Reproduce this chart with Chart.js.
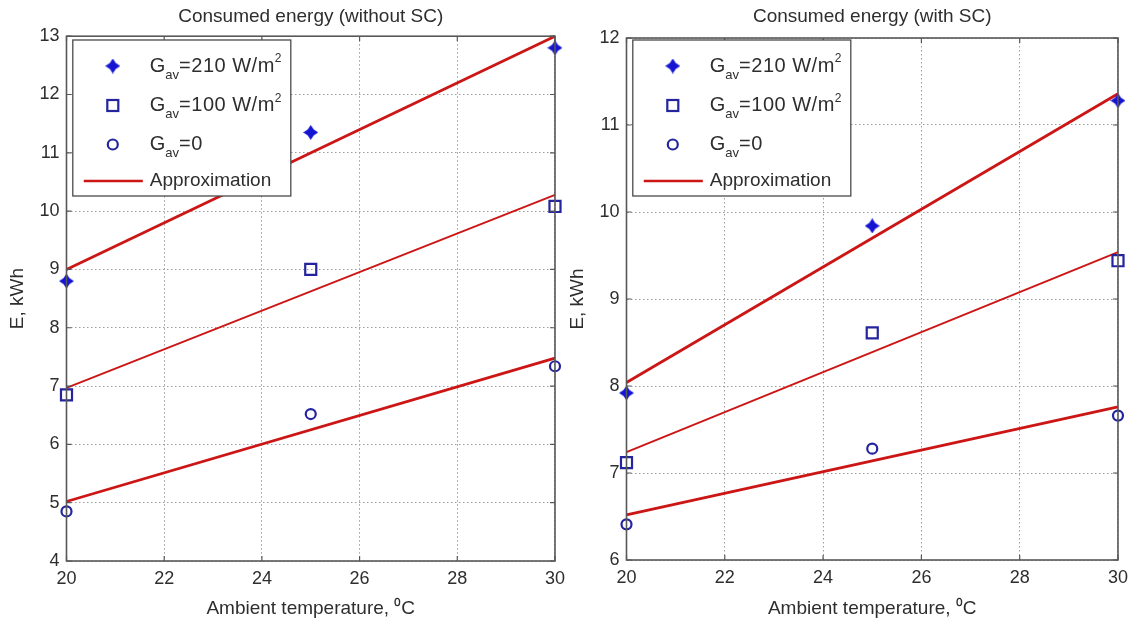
<!DOCTYPE html>
<html>
<head>
<meta charset="utf-8">
<title>Consumed energy</title>
<script src="https://cdn.jsdelivr.net/npm/chart.js@4/dist/chart.umd.min.js"></script>
<style>
  html, body { margin: 0; padding: 0; background: #ffffff; }
  #wrap { position: relative; width: 1133px; height: 626px; overflow: hidden; }
  .panel { position: absolute; top: 0; height: 626px; }
  #p1 { left: 0; width: 572px; }
  #p2 { left: 560px; width: 575px; }
</style>
</head>
<body>
<div id="wrap">
  <div class="panel" id="p1"><canvas id="c1"></canvas></div>
  <div class="panel" id="p2"><canvas id="c2"></canvas></div>
</div>
<script>
// Ambient temperatures of the measurements, °C
const temps = [20, 25, 30];
// Ends of the approximation lines, °C
const fitTemps = [20, 30];
const xTicks = [20, 22, 24, 26, 28, 30];

// Consumed energy without SC, kWh
const noSC210 = [8.8, 11.35, 12.8];
const noSC100 = [6.85, 9.0, 10.08];
const noSC0 = [4.85, 6.52, 7.34];
const noSCfit210 = [9.0, 13.0];
const noSCfit100 = [6.97, 10.28];
const noSCfit0 = [5.02, 7.48];
const noSCyTicks = [4, 5, 6, 7, 8, 9, 10, 11, 12, 13];

// Consumed energy with SC, kWh
const SC210 = [7.92, 9.84, 11.28];
const SC100 = [7.12, 8.61, 9.44];
const SC0 = [6.41, 7.28, 7.66];
const SCfit210 = [8.04, 11.36];
const SCfit100 = [7.24, 9.54];
const SCfit0 = [6.52, 7.76];
const SCyTicks = [6, 7, 8, 9, 10, 11, 12];

// Legend labels: [text, 'sub' | 'sup' | '']
const legendLabels = [
  [['G', ''], ['av', 'sub'], ['=210 W/m', ''], ['2', 'sup']],
  [['G', ''], ['av', 'sub'], ['=100 W/m', ''], ['2', 'sup']],
  [['G', ''], ['av', 'sub'], ['=0', '']],
  [['Approximation', 'plain']]
];

const FONT = "'Liberation Sans', Arial, Helvetica, sans-serif";
const TEXT = '#2e2e2e';
const AXIS = '#585858';
const BLUE_STAR = '#1414d2';
const BLUE = '#24249e';
const RED = '#cc1616';

function pts(xs, ys) { return xs.map((x, i) => ({ x: x, y: ys[i] })); }

// Filled four-pointed star marker
function makeStar(size, color) {
  const c = document.createElement('canvas');
  c.width = size; c.height = size;
  const g = c.getContext('2d');
  const r = size / 2, ri = r * 0.56;
  g.beginPath();
  for (let k = 0; k < 8; k++) {
    const a = -Math.PI / 2 + k * Math.PI / 4;
    const rr = (k % 2) ? ri : r;
    g.lineTo(r + rr * Math.cos(a), r + rr * Math.sin(a));
  }
  g.closePath();
  g.fillStyle = color;
  g.fill();
  return c;
}
const starImg = makeStar(15, BLUE_STAR);

function drawMarker(ctx, kind, x, y) {
  ctx.save();
  if (kind === 'star') {
    ctx.drawImage(starImg, x - starImg.width / 2, y - starImg.height / 2);
  } else if (kind === 'square') {
    ctx.strokeStyle = BLUE; ctx.lineWidth = 2.2;
    ctx.strokeRect(x - 5.5, y - 5.5, 11, 11);
  } else if (kind === 'circle') {
    ctx.strokeStyle = BLUE; ctx.lineWidth = 2.2;
    ctx.beginPath(); ctx.arc(x, y, 5, 0, Math.PI * 2); ctx.stroke();
  } else if (kind === 'line') {
    ctx.strokeStyle = RED; ctx.lineWidth = 2.6;
    ctx.beginPath(); ctx.moveTo(x - 29, y); ctx.lineTo(x + 30, y); ctx.stroke();
  }
  ctx.restore();
}

function drawRich(ctx, parts, x, y) {
  let cx = x;
  ctx.save();
  ctx.fillStyle = TEXT;
  ctx.textBaseline = 'middle';
  ctx.textAlign = 'left';
  for (const [t, mode] of parts) {
    let size = 20, dy = 0, spacing = 0;
    if (mode === 'sub') { size = 13; dy = 9; }
    else if (mode === 'sup') { size = 12; dy = -7; }
    else if (mode === 'plain') { size = 19; }
    else if (t !== 'G') { spacing = 0.5; }
    ctx.font = size + 'px ' + FONT;
    if ('letterSpacing' in ctx) ctx.letterSpacing = spacing + 'px';
    ctx.fillText(t, cx, y + dy);
    cx += ctx.measureText(t).width;
  }
  ctx.restore();
}

// Box around the axes, inward tick marks and the legend
const axesDecor = {
  id: 'axesDecor',
  afterDraw(chart, args, opts) {
    const ctx = chart.ctx;
    const ca = chart.chartArea;
    const xs = chart.scales.x, ys = chart.scales.y;
    const tl = 5;
    ctx.save();
    ctx.strokeStyle = AXIS;
    ctx.lineWidth = 1.2;
    ctx.beginPath();
    for (const t of xs.ticks) {
      const px = xs.getPixelForValue(t.value);
      ctx.moveTo(px, ca.bottom); ctx.lineTo(px, ca.bottom - tl);
      ctx.moveTo(px, ca.top); ctx.lineTo(px, ca.top + tl);
    }
    for (const t of ys.ticks) {
      const py = ys.getPixelForValue(t.value);
      ctx.moveTo(ca.left, py); ctx.lineTo(ca.left + tl, py);
      ctx.moveTo(ca.right, py); ctx.lineTo(ca.right - tl, py);
    }
    ctx.stroke();
    ctx.lineWidth = 1.6;
    ctx.strokeRect(ca.left, ca.top, ca.right - ca.left, ca.bottom - ca.top);

    // legend
    const bx = ca.left + opts.dx, by = ca.top + opts.dy, bw = opts.w, bh = opts.h;
    ctx.fillStyle = '#ffffff';
    ctx.fillRect(bx, by, bw, bh);
    ctx.strokeStyle = '#4a4a4a';
    ctx.lineWidth = 1.3;
    ctx.strokeRect(bx, by, bw, bh);
    const rows = [26, 65.5, 104.5, 141];
    const kinds = ['star', 'square', 'circle', 'line'];
    rows.forEach((ry, i) => {
      drawMarker(ctx, kinds[i], bx + 40, by + ry);
      drawRich(ctx, legendLabels[i], bx + 77, by + ry);
    });
    ctx.restore();
  }
};

function makeChart(canvasId, cfg) {
  const markerSets = [
    { label: 'Gav=210 W/m2', data: pts(temps, cfg.e210), pointStyle: starImg, pointRadius: 7,
      backgroundColor: BLUE_STAR, borderColor: BLUE_STAR, showLine: false },
    { label: 'Gav=100 W/m2', data: pts(temps, cfg.e100), pointStyle: 'rect', pointRadius: 7.8,
      pointBorderWidth: 2.2, backgroundColor: 'rgba(0,0,0,0)', borderColor: BLUE, showLine: false },
    { label: 'Gav=0', data: pts(temps, cfg.e0), pointStyle: 'circle', pointRadius: 5,
      pointBorderWidth: 2.2, backgroundColor: 'rgba(0,0,0,0)', borderColor: BLUE, showLine: false }
  ];
  const lineSets = [
    { label: 'Approximation', data: pts(fitTemps, cfg.f210), borderWidth: 2.8 },
    { label: 'Approximation', data: pts(fitTemps, cfg.f100), borderWidth: 1.9 },
    { label: 'Approximation', data: pts(fitTemps, cfg.f0), borderWidth: 2.8 }
  ].map(d => Object.assign(d, { showLine: true, pointRadius: 0, borderColor: RED, backgroundColor: RED }));

  const datasets = markerSets.concat(lineSets).map(d => Object.assign(d, { clip: false }));

  return new Chart(document.getElementById(canvasId), {
    type: 'scatter',
    data: { datasets: datasets },
    plugins: [axesDecor],
    options: {
      responsive: true,
      maintainAspectRatio: false,
      animation: false,
      devicePixelRatio: 1,
      events: [],
      layout: { padding: { left: 0, right: cfg.padRight, top: 0, bottom: 0 } },
      plugins: {
        legend: { display: false },
        tooltip: { enabled: false },
        title: {
          display: true,
          fullSize: false,
          text: cfg.title,
          color: TEXT,
          font: { family: FONT, size: 19, weight: 'normal' },
          padding: { top: 5.6, bottom: cfg.titleGap }
        },
        axesDecor: { dx: 6.3, dy: cfg.legendDy, w: 218, h: 156 }
      },
      scales: {
        x: {
          type: 'linear',
          min: 20, max: 30,
          afterBuildTicks: s => { s.ticks = xTicks.map(v => ({ value: v })); },
          afterFit: s => { s.height = cfg.xHeight; },
          ticks: { color: TEXT, font: { family: FONT, size: 18 }, padding: 7, maxRotation: 0 },
          grid: { color: '#9c9c9c', lineWidth: 1, drawTicks: false },
          border: { display: false, dash: [1.5, 2.5] },
          title: {
            display: true,
            text: 'Ambient temperature, \u2070C',
            color: TEXT,
            font: { family: FONT, size: 19 },
            padding: { top: 0, bottom: 6.2 }
          }
        },
        y: {
          type: 'linear',
          min: cfg.yTicks[0], max: cfg.yTicks[cfg.yTicks.length - 1],
          afterBuildTicks: s => { s.ticks = cfg.yTicks.map(v => ({ value: v })); },
          afterFit: s => { s.width = 66.5; },
          ticks: { color: TEXT, font: { family: FONT, size: 18 }, padding: 7 },
          grid: { color: '#9c9c9c', lineWidth: 1, drawTicks: false },
          border: { display: false, dash: [1.5, 2.5] },
          title: {
            display: true,
            text: 'E, kWh',
            color: TEXT,
            font: { family: FONT, size: 19 },
            padding: { top: 6, bottom: 0 }
          }
        }
      }
    }
  });
}

makeChart('c1', {
  title: 'Consumed energy (without SC)',
  e210: noSC210, e100: noSC100, e0: noSC0,
  f210: noSCfit210, f100: noSCfit100, f0: noSCfit0,
  yTicks: noSCyTicks,
  padRight: 13, titleGap: 7.8, xHeight: 65, legendDy: 3.8
});

makeChart('c2', {
  title: 'Consumed energy (with SC)',
  e210: SC210, e100: SC100, e0: SC0,
  f210: SCfit210, f100: SCfit100, f0: SCfit0,
  yTicks: SCyTicks,
  padRight: 13, titleGap: 9.6, xHeight: 66, legendDy: 2
});
</script>
</body>
</html>
